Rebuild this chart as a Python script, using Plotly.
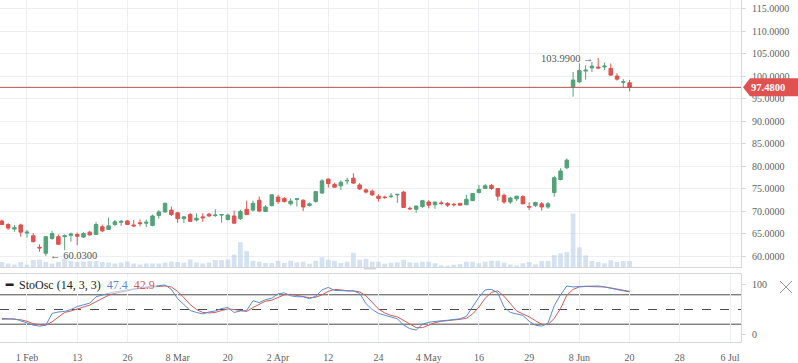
import plotly.graph_objects as go

# ---------------- data ----------------
day_index = list(range(-4, 97))  # trading-day index, 0 = 1 Feb

opens = [67.8, 67.0, 66.0, 66.9, 65.1, 64.5, 61.95, 60.6, 63.9, 64.3,
         64.3, 64.6, 64.8, 64.2, 65.3, 64.8, 66.5, 65.9, 67.0, 67.5,
         67.8, 66.9, 67.4, 67.3, 66.8, 69.0, 69.8, 70.2, 69.6, 68.3,
         69.2, 68.0, 68.7, 69.3, 69.0, 69.1, 68.1, 68.9, 68.3, 70.4,
         70.2, 72.4, 69.9, 71.2, 73.1, 72.8, 71.6, 72.6, 72.4, 71.2,
         72.1, 74.0, 77.1, 75.9, 75.6, 76.7, 77.3, 75.8, 74.7, 74.4,
         73.3, 73.1, 73.2, 73.6, 74.2, 70.6, 70.4, 71.0, 72.0, 71.4,
         71.8, 71.7, 71.5, 71.7, 71.4, 72.3, 74.1, 75.0, 75.7, 75.0,
         73.5, 72.0, 72.7, 73.2, 71.0, 71.2, 71.6, 70.9, 74.1, 77.0,
         79.6, 97.6, 98.7, 101.1, 101.8, 102.0, 102.0, 101.7, 100.0, 98.6,
         98.5]
highs = [68.1, 67.3, 66.9, 67.2, 65.8, 65.1, 62.6, 64.4, 65.6, 64.8,
         64.8, 65.2, 65.2, 65.3, 65.6, 67.5, 67.0, 68.5, 68.0, 68.0,
         68.0, 68.0, 68.1, 68.1, 69.2, 70.2, 71.9, 71.0, 69.8, 68.9,
         69.6, 69.5, 69.5, 69.6, 70.4, 69.3, 69.4, 70.1, 70.3, 72.3,
         72.3, 73.2, 71.3, 73.7, 73.6, 73.1, 72.8, 72.8, 72.6, 71.9,
         74.5, 77.1, 77.2, 76.3, 76.8, 77.4, 78.4, 76.2, 75.0, 74.8,
         73.7, 73.4, 74.0, 73.8, 74.5, 71.0, 71.2, 72.5, 72.4, 72.0,
         72.3, 72.0, 71.8, 71.8, 73.6, 74.0, 75.8, 76.0, 76.0, 75.1,
         73.9, 73.2, 73.3, 73.5, 71.9, 72.1, 72.0, 72.0, 77.8, 79.5,
         81.7, 100.9, 102.8, 102.4, 103.1, 103.99, 102.96, 102.8, 100.6, 99.3,
         99.1]
lows = [66.9, 65.8, 65.4, 64.3, 64.1, 63.0, 60.95, 60.03, 63.6, 62.5,
        61.3, 63.2, 62.4, 64.0, 64.5, 64.7, 65.3, 65.8, 66.7, 66.7,
        66.9, 66.4, 66.6, 66.4, 66.6, 68.3, 69.6, 68.9, 67.4, 67.3,
        67.6, 67.7, 67.6, 68.7, 68.7, 67.4, 67.9, 67.2, 68.0, 69.1,
        69.9, 69.7, 69.8, 71.0, 71.6, 71.9, 71.2, 71.0, 70.0, 71.0,
        71.9, 73.8, 75.2, 75.2, 74.7, 75.9, 76.0, 74.7, 73.9, 73.3,
        72.1, 72.7, 72.9, 71.8, 70.7, 70.2, 69.6, 70.7, 70.6, 70.5,
        71.3, 70.9, 71.0, 71.2, 71.3, 72.2, 73.9, 74.9, 74.7, 72.3,
        71.6, 71.6, 72.2, 71.5, 70.2, 70.9, 70.1, 70.5, 73.2, 76.8,
        79.3, 95.4, 98.4, 99.2, 100.9, 101.5, 101.3, 100.0, 99.0, 97.5,
        96.6]
closes = [67.0, 66.2, 66.3, 65.3, 65.3, 63.2, 61.8, 64.3, 65.0, 62.6,
          64.5, 64.9, 64.4, 65.0, 64.7, 67.0, 65.6, 66.7, 67.6, 67.7,
          67.0, 66.7, 67.2, 67.5, 68.9, 69.8, 71.7, 69.2, 68.3, 68.7,
          67.7, 68.4, 68.5, 68.9, 69.1, 69.2, 69.1, 67.3, 69.9, 69.2,
          71.7, 70.0, 70.9, 73.6, 72.1, 72.1, 72.2, 72.7, 70.9, 71.6,
          74.3, 76.7, 76.1, 75.3, 76.4, 76.8, 76.2, 74.9, 74.2, 73.6,
          72.8, 73.0, 73.3, 73.7, 70.8, 70.5, 71.1, 72.3, 71.3, 72.0,
          71.7, 71.3, 71.4, 71.3, 72.6, 73.9, 74.8, 75.6, 75.0, 73.3,
          72.0, 72.9, 73.3, 71.6, 70.9, 71.9, 70.9, 71.6, 77.4, 78.9,
          81.3, 99.1, 101.2, 101.3, 102.2, 101.8, 102.2, 100.2, 99.3, 98.7,
          97.48]
volumes = [500, 350, 250, 500, 250, 700, 750, 500, 350, 500,
           850, 600, 500, 550, 600, 600, 500, 450, 350, 450,
           550, 350, 250, 350, 350, 350, 450, 550, 500, 450,
           750, 450, 350, 450, 700, 700, 750, 1250, 2500, 1600,
           630, 530, 400, 400, 630, 400, 630, 470, 530, 330,
           630, 970, 730, 630, 400, 530, 1430, 730, 830, 530,
           530, 330, 430, 470, 730, 470, 430, 530, 530, 370,
           170, 130, 230, 300, 530, 530, 370, 530, 630, 630,
           450, 250, 150, 370, 500, 270, 600, 600, 1200, 1370,
           1500, 5370, 1970, 1170, 600, 500, 370, 670, 500, 600,
           600]
stoch_k = [30, 30, 31, 27, 22, 18, 16, 18, 42, 45,
           46, 50, 56, 59, 63, 76, 80, 83, 86, 88,
           91, 93, 95, 96, 97, 99, 100, 91, 72, 60,
           48, 44, 41, 45, 47, 52, 54, 44, 47, 48,
           68, 64, 70, 73, 82, 84, 78, 76, 76, 72,
           77, 90, 95, 89, 88, 88, 88, 83, 62, 50,
           42, 38, 35, 31, 18, 11, 8, 20, 24, 26,
           27, 28, 30, 31, 36, 55, 75, 90, 91, 84,
           55, 44, 41, 38, 26, 18, 16, 22, 58, 80,
           98, 96, 97, 97, 98, 98, 96, 93, 91, 88,
           86]
stoch_d = [32, 31, 30, 29, 26, 21, 19, 18, 25, 35,
           44, 47, 51, 55, 59, 66, 73, 79, 83, 86,
           88, 91, 93, 95, 96, 97, 98, 96, 87, 74,
           60, 50, 44, 43, 44, 48, 51, 50, 48, 46,
           54, 60, 67, 69, 75, 80, 81, 79, 76, 74,
           75, 80, 87, 91, 90, 88, 88, 86, 78, 65,
           51, 43, 38, 35, 28, 20, 13, 13, 18, 23,
           26, 27, 28, 30, 32, 41, 55, 73, 85, 88,
           77, 61, 47, 41, 35, 27, 20, 19, 32, 52,
           79, 91, 96, 97, 97, 97, 96, 94, 92, 89,
           87]
tick_pos = [0, 8, 16, 24, 32, 40, 48, 56, 64, 72, 80, 88, 96, 104, 112]
tick_labels = ["1 Feb", "13", "26", "8 Mar", "20", "2 Apr", "12", "24",
               "4 May", "16", "29", "8 Jun", "20", "28", "6 Jul"]
price_ticks = [60, 65, 70, 75, 80, 85, 90, 95, 100, 105, 110, 115]
stoch_levels = [80, 50, 20]
stoch_name = "StoOsc (14, 3, 3)"
stoch_legend_k = "47.4"
stoch_legend_d = "42.9"

# ---------------- styling ----------------
FONT = "Liberation Serif"
GREEN = "#53a27a"
RED = "#e0524f"
GRID = "#eceef1"
AXLINE = "#d5d9de"
TXT = "#5f5f5f"
K_COL = "#5a8bd2"
D_COL = "#cf5a57"

last_price = closes[-1]
hi_i = highs.index(max(highs))
lo_i = lows.index(min(lows))

fig = go.Figure()

fig.add_trace(go.Bar(
    x=day_index, y=volumes, xaxis="x", yaxis="y",
    marker=dict(color="rgba(185,208,232,0.62)", line=dict(width=0)),
    hoverinfo="skip"))

fig.add_trace(go.Candlestick(
    x=day_index, open=opens, high=highs, low=lows, close=closes,
    xaxis="x", yaxis="y2", whiskerwidth=0,
    increasing=dict(line=dict(color=GREEN, width=1), fillcolor=GREEN),
    decreasing=dict(line=dict(color=RED, width=1), fillcolor=RED),
    hoverinfo="skip"))

fig.add_trace(go.Scatter(
    x=day_index, y=stoch_d, xaxis="x2", yaxis="y3", mode="lines",
    line=dict(color=D_COL, width=1), hoverinfo="skip"))
fig.add_trace(go.Scatter(
    x=day_index, y=stoch_k, xaxis="x2", yaxis="y3", mode="lines",
    line=dict(color=K_COL, width=1), hoverinfo="skip"))

shapes = []
for lv in stoch_levels:
    shapes.append(dict(type="line", xref="x2 domain", x0=0, x1=1, yref="y3",
                       y0=lv, y1=lv, layer="below",
                       line=dict(color="#4a4a4a", width=1,
                                 dash="dash" if lv == 50 else "solid")))
# last price line
shapes.append(dict(type="line", xref="paper", x0=0, x1=1, yref="y2",
                   y0=last_price, y1=last_price,
                   line=dict(color="#b8504d", width=1)))
# last price badge
shapes.append(dict(type="path", xref="paper", xsizemode="pixel", xanchor=1,
                   yref="y2", ysizemode="pixel", yanchor=last_price,
                   path="M 2,0 L 9,-9 L 57,-9 L 57,9 L 9,9 Z",
                   fillcolor=RED, line=dict(width=0)))
# close icon (x)
shapes.append(dict(type="path", xref="paper", xsizemode="pixel", xanchor=1,
                   yref="paper", ysizemode="pixel", yanchor=(342 - 287) / 342,
                   path="M 39,6 L 51,-6 M 39,-6 L 51,6",
                   line=dict(color="#9a9a9a", width=1)))
# panel drag handle
shapes.append(dict(type="path", xref="paper", xsizemode="pixel", xanchor=0,
                   yref="paper", ysizemode="pixel", yanchor=(342 - 268.5) / 342,
                   path="M 364,0 L 376,0",
                   line=dict(color="#d6d6d6", width=2)))

annotations = [
    dict(xref="paper", x=1, xanchor="left", xshift=8, yref="y2", y=last_price,
         yanchor="middle", text="<b>%.4f</b>" % last_price, showarrow=False,
         font=dict(family=FONT, size=10.5, color="white")),
    dict(xref="x", x=day_index[hi_i], yref="y2", y=highs[hi_i], xanchor="right",
         xshift=-2, yanchor="middle", text="%.4f →" % highs[hi_i], showarrow=False,
         font=dict(family=FONT, size=10.5, color="#555")),
    dict(xref="x", x=day_index[lo_i], yref="y2", y=lows[lo_i], xanchor="left",
         xshift=2, yanchor="middle", text="← %.4f" % lows[lo_i], showarrow=False,
         font=dict(family=FONT, size=10.5, color="#555")),
    dict(xref="paper", x=0, xanchor="left", xshift=3, yref="y3 domain", y=0.84,
         yanchor="middle", showarrow=False, bgcolor="rgba(255,255,255,0.55)",
         text=("<b>━</b>  " + stoch_name + "  <span style='color:%s'>%s</span>"
               "  <span style='color:%s'>%s</span>") % (K_COL, stoch_legend_k,
                                                         D_COL, stoch_legend_d),
         font=dict(family=FONT, size=12, color="#222")),
]

main_bottom = (342 - 267) / 342
stoch_top = (342 - 274) / 342

fig.update_layout(
    width=798, height=363,
    margin=dict(l=0, r=57, t=0, b=21),
    paper_bgcolor="white", plot_bgcolor="white",
    showlegend=False, hovermode=False, bargap=0.25, boxgap=0.2,
    font=dict(family=FONT, size=10, color=TXT),
    xaxis=dict(domain=[0, 1], anchor="y", range=[-4.3, 113.75],
               tickvals=tick_pos, showticklabels=False, showgrid=True,
               gridcolor=GRID, gridwidth=1, zeroline=False, showline=True,
               linecolor=AXLINE, rangeslider=dict(visible=False)),
    yaxis=dict(domain=[main_bottom, 1], anchor="x", range=[0, max(volumes) * 5],
               visible=False, fixedrange=True),
    yaxis2=dict(overlaying="y", anchor="x", side="right",
                range=[57.56, 116.89], tickvals=price_ticks, tickformat=".4f",
                showgrid=True, gridcolor=GRID, zeroline=False, showline=True,
                linecolor=AXLINE, ticks="outside", ticklen=4, tickcolor=AXLINE,
                ticklabelstandoff=4, tickfont=dict(family=FONT, size=10, color=TXT)),
    xaxis2=dict(domain=[0, 1], anchor="y3", matches="x", tickvals=tick_pos,
                ticktext=tick_labels, showgrid=True, gridcolor=GRID,
                zeroline=False, showline=True, mirror=True, linecolor=AXLINE,
                ticks="", ticklabelstandoff=6,
                tickfont=dict(family=FONT, size=10, color=TXT)),
    yaxis3=dict(domain=[0, stoch_top], anchor="x2", side="right",
                range=[-16.3, 122.4], tickvals=[0, 100], showgrid=False,
                zeroline=False, showline=True, linecolor=AXLINE,
                ticks="outside", ticklen=4, tickcolor=AXLINE,
                ticklabelstandoff=4, tickfont=dict(family=FONT, size=10, color=TXT)),
    shapes=shapes, annotations=annotations,
)

fig.write_html("out.html",
               config={"displayModeBar": False, "staticPlot": True},
               post_script="document.body.style.margin='0';"
                           "document.body.style.overflow='hidden';")
